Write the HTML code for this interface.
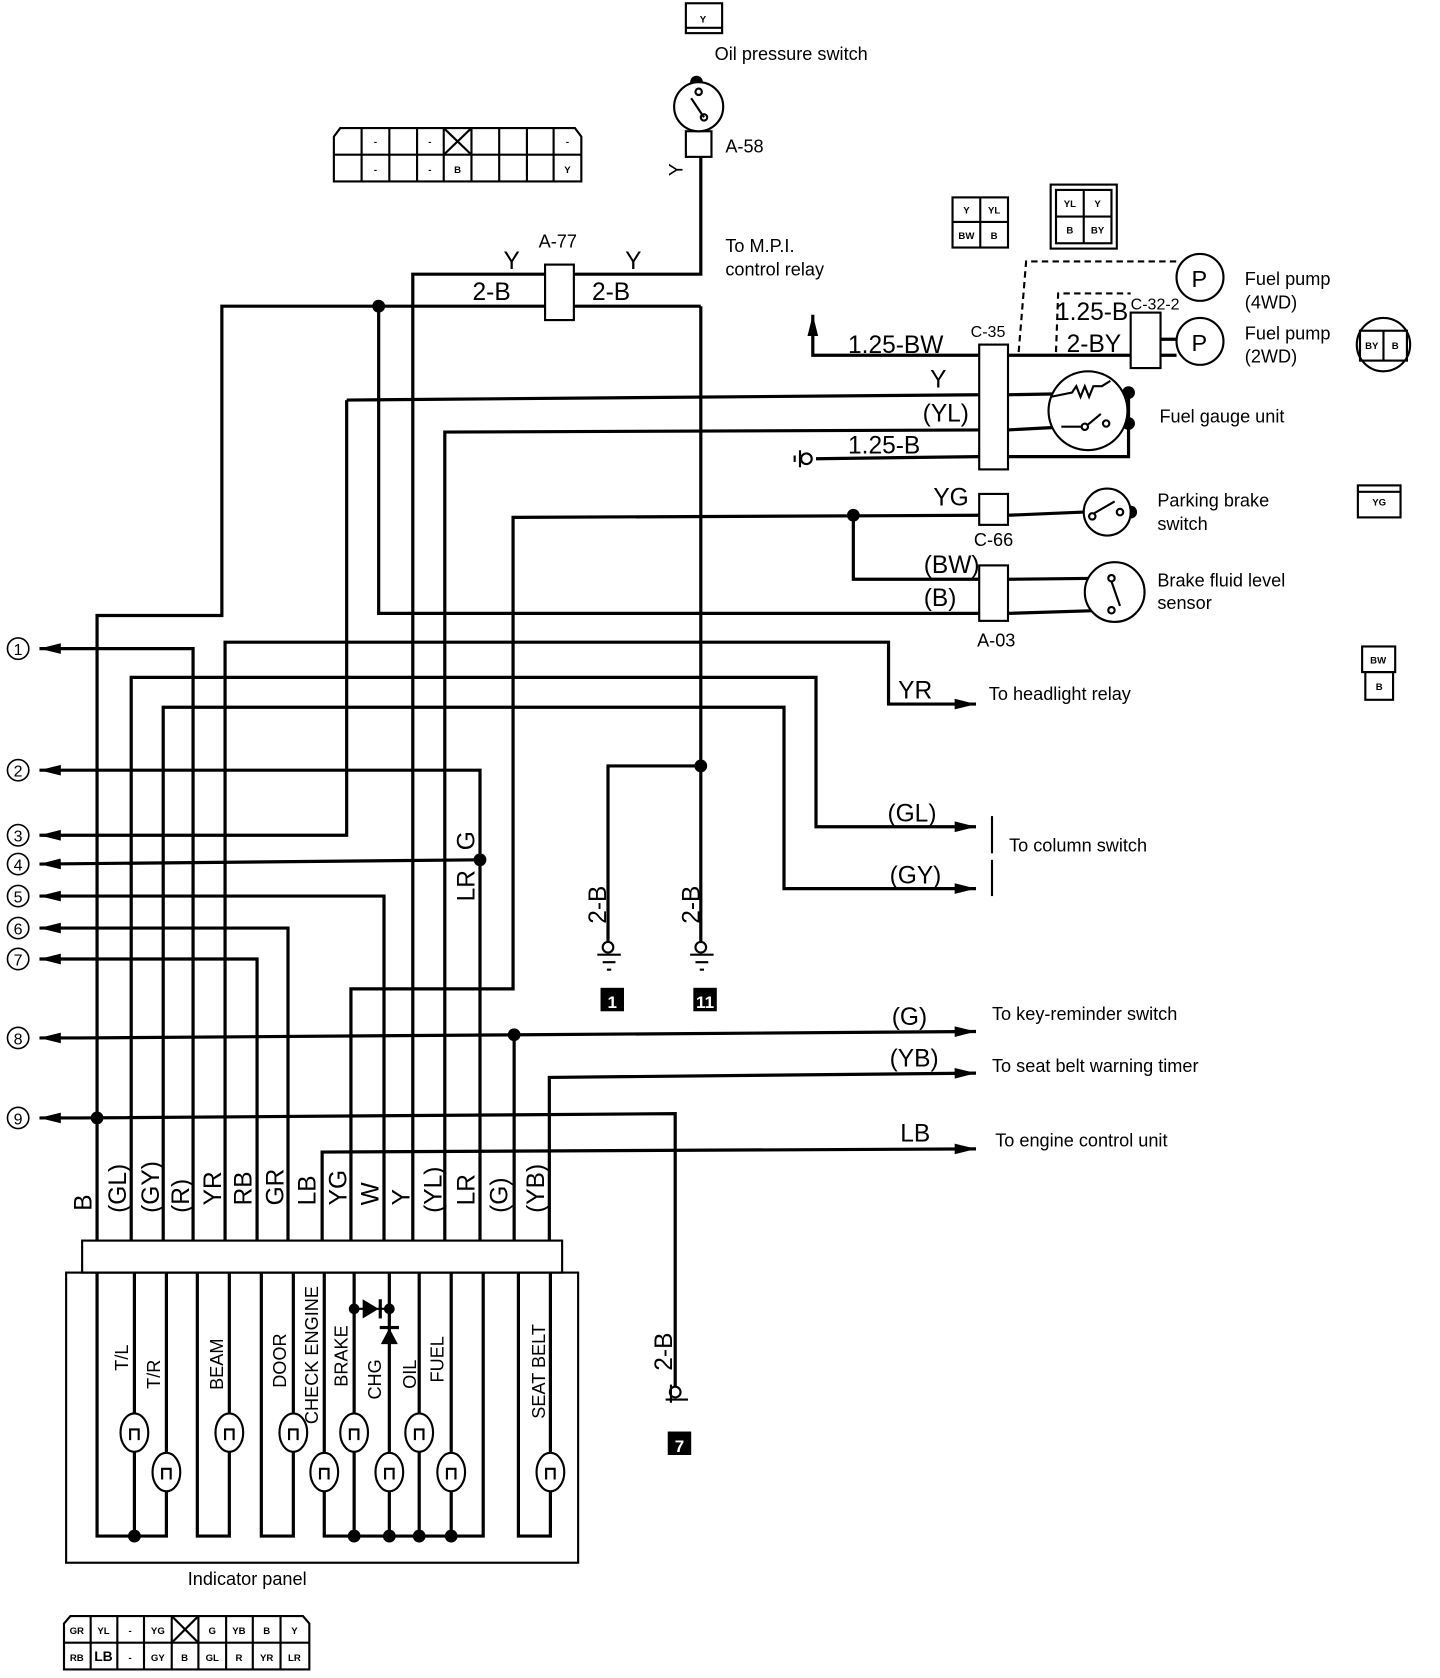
<!DOCTYPE html>
<html><head><meta charset="utf-8"><style>
html,body{margin:0;padding:0;background:#fff;}
svg{display:block}
text{font-family:"Liberation Sans",sans-serif;fill:#000}
.w{font-size:23px;font-family:"Liberation Sans Narrow","Liberation Sans",sans-serif}
.s{font-size:17px}
.t{font-size:9px;font-weight:bold}
</style></head><body>
<svg width="1440" height="1678" viewBox="0 0 1350 1573" xmlns="http://www.w3.org/2000/svg">
<defs>
<marker id="ar2" viewBox="0 0 20 12" markerWidth="20" markerHeight="12" refX="20" refY="6" orient="auto" markerUnits="userSpaceOnUse"><path d="M0,1 L20,6 L0,11z" fill="#000"/></marker>
</defs>
<g fill="none" stroke="#000" stroke-width="3">
<polyline points="91,1163 91,577 208,577 208,287 657,287"/>
<polyline points="355,287 355,575 918,575"/>
<polyline points="657,287 657,883"/>
<polyline points="657,718 570,718 570,883"/>
<polyline points="387,1163 387,257 657,257 657,147"/>
<polyline points="123,1163 123,635 765,635 765,775 915,775" marker-end="url(#ar2)"/>
<polyline points="153,1163 153,663 735,663 735,833 915,833" marker-end="url(#ar2)"/>
<polyline points="181,1163 181,608 37,608" marker-end="url(#ar2)"/>
<polyline points="211,1163 211,602 833,602 833,660 915,660" marker-end="url(#ar2)"/>
<polyline points="241,1163 241,899 37,899" marker-end="url(#ar2)"/>
<polyline points="270,1163 270,870 37,870" marker-end="url(#ar2)"/>
<polyline points="302,1163 302,1080 915,1077" marker-end="url(#ar2)"/>
<polyline points="329,1163 329,927 481,927 481,485 918,483"/>
<polyline points="800,483 800,543 918,543"/>
<polyline points="360,1163 360,840 37,840" marker-end="url(#ar2)"/>
<polyline points="325,375 325,783 37,783" marker-end="url(#ar2)"/>
<polyline points="325,375 918,370"/>
<polyline points="417,1163 417,405 918,403"/>
<polyline points="450,1163 450,722 37,722" marker-end="url(#ar2)"/>
<polyline points="450,806 37,810" marker-end="url(#ar2)"/>
<polyline points="482,1163 482,970"/>
<polyline points="75,973 915,967" marker-end="url(#ar2)"/>
<polyline points="75,973 37,973" marker-end="url(#ar2)"/>
<polyline points="515,1163 515,1010 915,1006" marker-end="url(#ar2)"/>
<polyline points="633,1300 633,1044 75,1048"/>
<polyline points="75,1048 37,1048" marker-end="url(#ar2)"/>
<polyline points="918,333 762,333 762,295" marker-end="url(#ar2)"/>
<line x1="918" y1="428" x2="765" y2="430"/>
<line x1="945" y1="333" x2="1060" y2="333"/>
<line x1="1088" y1="318" x2="1103" y2="318"/>
<line x1="1088" y1="333" x2="1103" y2="333"/>
<line x1="945" y1="370" x2="1058" y2="368"/>
<line x1="945" y1="403" x2="1058" y2="397"/>
<polyline points="945,428 1058,428 1058,368"/>
<line x1="945" y1="483" x2="1016" y2="480"/>
<line x1="945" y1="543" x2="1040" y2="542"/>
<line x1="945" y1="575" x2="1040" y2="572"/>
</g>
<g fill="none" stroke="#000" stroke-width="2" stroke-dasharray="6,4">
<polyline points="955,330 962,245 1103,245"/>
<polyline points="990,330 992,275 1060,275"/>
</g>
<g fill="#000">
<circle cx="355" cy="287" r="6"/><circle cx="657" cy="718" r="6"/><circle cx="450" cy="806" r="6"/>
<circle cx="482" cy="970" r="6"/><circle cx="91" cy="1048" r="6"/><circle cx="800" cy="483" r="6"/>
<circle cx="653" cy="77" r="6"/><circle cx="1058" cy="368" r="6"/><circle cx="1058" cy="397" r="6"/>
<circle cx="1060" cy="480" r="6"/>
</g>
<g fill="#fff" stroke="#000" stroke-width="2">
<rect x="511" y="248" width="27" height="52"/>
<rect x="643" y="123" width="24" height="24"/>
<rect x="918" y="323" width="27" height="117"/>
<rect x="1060" y="293" width="28" height="52"/>
<rect x="918" y="463" width="27" height="29"/>
<rect x="918" y="530" width="27" height="52"/>
<circle cx="655" cy="100" r="23"/>
<circle cx="1125" cy="260" r="22"/><circle cx="1125" cy="320" r="22"/>
<circle cx="1020" cy="385" r="37"/>
<circle cx="1038" cy="480" r="22"/>
<circle cx="1045" cy="555" r="28"/>
<rect x="643" y="3" width="34" height="28"/>
</g>
<g stroke="#000" stroke-width="2" fill="none">
<line x1="643" y1="26" x2="677" y2="26"/>
<line x1="648" y1="92" x2="660" y2="110"/>
<circle cx="655" cy="86" r="3"/><circle cx="660" cy="110" r="3"/>
<path d="M985,372 l20,-4 l4,-6 l4,10 l4,-10 l4,10 l4,-10 l8,0 l8,-5"/>
<path d="M995,400 l20,0 M1020,398 l12,-10"/><circle cx="1017" cy="400" r="3"/><circle cx="1037" cy="397" r="3"/>
<circle cx="1024" cy="484" r="3"/><circle cx="1050" cy="480" r="3"/><line x1="1026" y1="481" x2="1045" y2="470"/>
<circle cx="1042" cy="542" r="3"/><circle cx="1042" cy="572" r="3"/><line x1="1042" y1="545" x2="1050" y2="568"/>
<circle cx="756" cy="430" r="5"/><line x1="750" y1="422" x2="750" y2="438"/><line x1="745" y1="427" x2="745" y2="433"/>
<circle cx="570" cy="888" r="5"/><line x1="560" y1="895" x2="582" y2="895"/><line x1="565" y1="902" x2="577" y2="902"/><line x1="569" y1="909" x2="573" y2="909"/>
<circle cx="657" cy="888" r="5"/><line x1="647" y1="895" x2="669" y2="895"/><line x1="652" y1="902" x2="664" y2="902"/><line x1="656" y1="909" x2="660" y2="909"/>
<circle cx="633" cy="1305" r="5"/><line x1="624" y1="1312" x2="645" y2="1312"/><line x1="629" y1="1298" x2="629" y2="1315"/>
<line x1="930" y1="765" x2="930" y2="800"/><line x1="930" y1="806" x2="930" y2="840"/>
</g>
<g fill="#000"><rect x="563" y="926" width="22" height="22"/><rect x="650" y="926" width="22" height="22"/><rect x="626" y="1342" width="22" height="22"/></g>
<text x="574" y="945" font-size="16" font-weight="bold" style="fill:#fff" text-anchor="middle">1</text>
<text x="661" y="945" font-size="16" font-weight="bold" style="fill:#fff" text-anchor="middle">11</text>
<text x="637" y="1361" font-size="16" font-weight="bold" style="fill:#fff" text-anchor="middle">7</text>
<g fill="none" stroke="#000" stroke-width="1.5">
<circle cx="17" cy="608" r="10"/><circle cx="17" cy="722" r="10"/><circle cx="17" cy="783" r="10"/><circle cx="17" cy="810" r="10"/><circle cx="17" cy="840" r="10"/><circle cx="17" cy="870" r="10"/><circle cx="17" cy="899" r="10"/><circle cx="17" cy="973" r="10"/><circle cx="17" cy="1048" r="10"/>
</g>
<g font-size="15" text-anchor="middle">
<text x="17" y="614">1</text><text x="17" y="728">2</text><text x="17" y="789">3</text><text x="17" y="816">4</text><text x="17" y="846">5</text><text x="17" y="876">6</text><text x="17" y="905">7</text><text x="17" y="979">8</text><text x="17" y="1054">9</text>
</g>
<g class="w">
<text x="472" y="252">Y</text><text x="586" y="252">Y</text>
<text x="443" y="281">2-B</text><text x="555" y="281">2-B</text>
<text x="795" y="331">1.25-BW</text><text x="872" y="363">Y</text><text x="865" y="395">(YL)</text><text x="795" y="425">1.25-B</text>
<text x="990" y="300">1.25-B</text><text x="1000" y="330">2-BY</text>
<text x="875" y="474">YG</text><text x="866" y="537">(BW)</text><text x="866" y="568">(B)</text>
<text x="842" y="655">YR</text><text x="832" y="770">(GL)</text><text x="834" y="828">(GY)</text>
<text x="836" y="961">(G)</text><text x="834" y="1000">(YB)</text><text x="844" y="1070">LB</text>
</g>
<g class="w">
<text transform="translate(445,845) rotate(-90)">LR</text>
<text transform="translate(445,797) rotate(-90)">G</text>
<text transform="translate(568,866) rotate(-90)">2-B</text>
<text transform="translate(656,866) rotate(-90)">2-B</text>
<text transform="translate(630,1285) rotate(-90)">2-B</text>
<text transform="translate(640,165) rotate(-90)" font-size="18">Y</text>
</g>
<g class="w" font-size="22">
<text transform="translate(86,1135) rotate(-90)">B</text>
<text transform="translate(118,1137) rotate(-90)">(GL)</text>
<text transform="translate(149,1137) rotate(-90)">(GY)</text>
<text transform="translate(177,1137) rotate(-90)">(R)</text>
<text transform="translate(207,1130) rotate(-90)">YR</text>
<text transform="translate(236,1130) rotate(-90)">RB</text>
<text transform="translate(266,1130) rotate(-90)">GR</text>
<text transform="translate(296,1130) rotate(-90)">LB</text>
<text transform="translate(325,1130) rotate(-90)">YG</text>
<text transform="translate(355,1130) rotate(-90)">W</text>
<text transform="translate(384,1130) rotate(-90)">Y</text>
<text transform="translate(414,1137) rotate(-90)">(YL)</text>
<text transform="translate(445,1130) rotate(-90)">LR</text>
<text transform="translate(476,1137) rotate(-90)">(G)</text>
<text transform="translate(510,1137) rotate(-90)">(YB)</text>
</g>
<g class="s">
<text x="670" y="56">Oil pressure switch</text>
<text x="680" y="143">A-58</text>
<text x="505" y="232">A-77</text>
<text x="680" y="236">To M.P.I.</text><text x="680" y="258">control relay</text>
<text x="910" y="316" font-size="15">C-35</text>
<text x="1060" y="290" font-size="15">C-32-2</text>
<text x="1167" y="267">Fuel pump</text><text x="1167" y="289">(4WD)</text>
<text x="1167" y="318">Fuel pump</text><text x="1167" y="340">(2WD)</text>
<text x="1087" y="396">Fuel gauge unit</text>
<text x="1085" y="475">Parking brake</text><text x="1085" y="497">switch</text>
<text x="913" y="512">C-66</text>
<text x="1085" y="550">Brake fluid level</text><text x="1085" y="571">sensor</text>
<text x="916" y="606">A-03</text>
<text x="927" y="656">To headlight relay</text>
<text x="946" y="798">To column switch</text>
<text x="930" y="956">To key-reminder switch</text>
<text x="930" y="1005">To seat belt warning timer</text>
<text x="933" y="1075">To engine control unit</text>
<text x="176" y="1486">Indicator panel</text>
<text x="1117" y="269" font-size="22">P</text><text x="1117" y="329" font-size="22">P</text>
</g>
<g fill="none" stroke="#000" stroke-width="2">
<path d="M313,128 l6,-8 h220 l6,8 v42 h-232z"/>
<line x1="313" y1="145" x2="545" y2="145"/>
<path d="M339,120v50M365,120v50M391,120v50M416,120v50M442,120v50M468,120v50M494,120v50M519,120v50"/>
<path d="M416,120 l26,25 M442,120 l-26,25"/>
<path d="M60,1522 l6,-7 h218 l6,7 v43 h-230z"/>
<line x1="60" y1="1540" x2="290" y2="1540"/>
<path d="M85,1515v50M110,1515v50M135,1515v50M161,1515v50M186,1515v50M212,1515v50M237,1515v50M263,1515v50"/>
<path d="M161,1515 l25,25 M186,1515 l-25,25"/>
<rect x="893" y="185" width="52" height="47"/><line x1="919" y1="185" x2="919" y2="232"/><line x1="893" y1="208" x2="945" y2="208"/>
<rect x="985" y="173" width="62" height="60"/><rect x="990" y="178" width="52" height="50"/><line x1="1016" y1="178" x2="1016" y2="228"/><line x1="990" y1="203" x2="1042" y2="203"/>
<circle cx="1297" cy="323" r="25"/><line x1="1297" y1="310" x2="1297" y2="338"/><rect x="1275" y="310" width="44" height="28"/>
<rect x="1273" y="455" width="40" height="30"/><line x1="1273" y1="461" x2="1313" y2="461"/>
<rect x="1277" y="606" width="31" height="24"/><rect x="1280" y="630" width="26" height="26"/>
</g>
<g class="t" text-anchor="middle">
<text x="352" y="136">-</text><text x="403" y="136">-</text><text x="532" y="136">-</text>
<text x="352" y="162">-</text><text x="403" y="162">-</text><text x="429" y="162">B</text><text x="532" y="162">Y</text>
<text x="659" y="21">Y</text>
<text x="906" y="200">Y</text><text x="932" y="200">YL</text><text x="906" y="224">BW</text><text x="932" y="224">B</text>
<text x="1003" y="194">YL</text><text x="1029" y="194">Y</text><text x="1003" y="219">B</text><text x="1029" y="219">BY</text>
<text x="1286" y="327">BY</text><text x="1308" y="327">B</text>
<text x="1293" y="474">YG</text><text x="1292" y="622">BW</text><text x="1293" y="647">B</text>
<text x="72" y="1532">GR</text><text x="97" y="1532">YL</text><text x="122" y="1532">-</text><text x="148" y="1532">YG</text><text x="199" y="1532">G</text><text x="224" y="1532">YB</text><text x="250" y="1532">B</text><text x="276" y="1532">Y</text>
<text x="72" y="1557">RB</text><text x="97" y="1557" font-size="13">LB</text><text x="122" y="1557">-</text><text x="148" y="1557">GY</text><text x="173" y="1557">B</text><text x="199" y="1557">GL</text><text x="224" y="1557">R</text><text x="250" y="1557">YR</text><text x="276" y="1557">LR</text>
</g>
<g fill="none" stroke="#000" stroke-width="2">
<rect x="77" y="1163" width="450" height="30"/>
<rect x="62" y="1193" width="480" height="272"/>
</g>
<g fill="none" stroke="#000" stroke-width="3">
<path d="M91,1193V1440H156V1193M126,1193V1440"/>
<path d="M185,1193V1440H215V1193"/>
<path d="M245,1193V1440H275V1193"/>
<path d="M304,1193V1440H453V1193M332,1193V1440M365,1193V1440M393,1193V1440M423,1193V1440"/>
<path d="M486,1193V1440H516V1193"/>
</g>
<g fill="#000">
<circle cx="126" cy="1440" r="6"/><circle cx="332" cy="1440" r="6"/><circle cx="365" cy="1440" r="6"/><circle cx="393" cy="1440" r="6"/><circle cx="423" cy="1440" r="6"/>
<circle cx="332" cy="1227" r="5"/><circle cx="365" cy="1227" r="5"/>
<path d="M340,1218 L355,1227 L340,1236z"/><rect x="355" y="1218" width="3" height="18"/>
<path d="M357,1260 L365,1245 L373,1260z"/><rect x="356" y="1243" width="18" height="3"/>
</g>
<line x1="332" y1="1227" x2="365" y2="1227" stroke="#000" stroke-width="2"/>
<g fill="#fff" stroke="#000" stroke-width="2">
<ellipse cx="126" cy="1343" rx="13" ry="18"/><ellipse cx="156" cy="1380" rx="13" ry="18"/>
<ellipse cx="215" cy="1343" rx="13" ry="18"/><ellipse cx="275" cy="1343" rx="13" ry="18"/>
<ellipse cx="304" cy="1380" rx="13" ry="18"/><ellipse cx="332" cy="1343" rx="13" ry="18"/>
<ellipse cx="365" cy="1380" rx="13" ry="18"/><ellipse cx="393" cy="1343" rx="13" ry="18"/>
<ellipse cx="423" cy="1380" rx="13" ry="18"/><ellipse cx="516" cy="1380" rx="13" ry="18"/>
</g>
<g fill="none" stroke="#000" stroke-width="2">
<path d="M122,1350v-10h8v10M152,1387v-10h8v10M211,1350v-10h8v10M271,1350v-10h8v10M300,1387v-10h8v10M328,1350v-10h8v10M361,1387v-10h8v10M389,1350v-10h8v10M419,1387v-10h8v10M512,1387v-10h8v10"/>
</g>
<g font-size="17">
<text transform="translate(120,1285) rotate(-90)">T/L</text>
<text transform="translate(150,1302) rotate(-90)">T/R</text>
<text transform="translate(209,1303) rotate(-90)">BEAM</text>
<text transform="translate(268,1301) rotate(-90)">DOOR</text>
<text transform="translate(298,1335) rotate(-90)">CHECK ENGINE</text>
<text transform="translate(326,1300) rotate(-90)">BRAKE</text>
<text transform="translate(357,1312) rotate(-90)">CHG</text>
<text transform="translate(390,1302) rotate(-90)">OIL</text>
<text transform="translate(416,1296) rotate(-90)">FUEL</text>
<text transform="translate(511,1330) rotate(-90)">SEAT BELT</text>
</g>
</svg>
</body></html>
